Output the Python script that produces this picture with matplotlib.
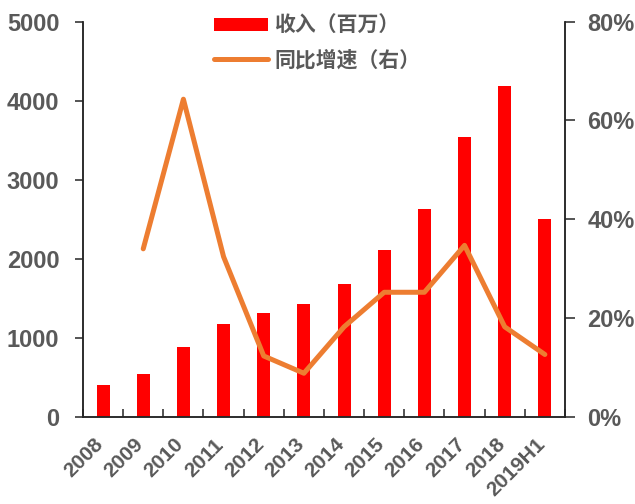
import numpy as np
import matplotlib
matplotlib.use("Agg")
import matplotlib.pyplot as plt
from matplotlib.ticker import FixedLocator, PercentFormatter
from matplotlib.transforms import ScaledTranslation

years = ["2008", "2009", "2010", "2011", "2012", "2013", "2014",
         "2015", "2016", "2017", "2018", "2019H1"]
revenue = [400, 540, 885, 1170, 1310, 1425, 1680, 2105, 2630, 3540, 4190, 2500]
growth = [np.nan, 34.0, 64.3, 32.4, 12.3, 8.8, 18.2, 25.2, 25.2, 34.7, 18.2, 12.6]

rev_label = "收入（百万）"
growth_label = "同比增速（右）"

gray = "#595959"
axis_color = "#262626"
bar_color = "#FF0000"
line_color = "#ED7D31"

plt.rcParams["font.family"] = ["Liberation Sans", "DejaVu Sans"]

fig = plt.figure(figsize=(6.35, 5.04), dpi=100)
ax = fig.add_axes([0.1307, 0.1732, 0.759, 0.7838])
ax2 = ax.twinx()

x = np.arange(len(years))
bars = ax.bar(x, revenue, width=0.325, color=bar_color, zorder=2)
line, = ax2.plot(x, growth, color=line_color, lw=3.6,
                 solid_capstyle="round", solid_joinstyle="round", zorder=3)

ax.set_xlim(-0.5, len(years) - 0.5)
ax.set_ylim(0, 5000)
ax2.set_ylim(0, 80)

ax.set_yticks([0, 1000, 2000, 3000, 4000, 5000])
ax2.set_yticks([0, 20, 40, 60, 80])
ax2.yaxis.set_major_formatter(PercentFormatter(decimals=0))

for a in (ax, ax2):
    a.spines["top"].set_visible(False)
    for s in ("left", "right", "bottom"):
        a.spines[s].set_color(axis_color)
        a.spines[s].set_linewidth(1.1)

# category labels at bar centres, tick marks at category boundaries
ax.set_xticks(x)
ax.set_xticklabels(years, rotation=45, ha="right", va="top",
                   fontsize=15, fontweight="bold", color=gray)
ax.tick_params(axis="x", which="major", length=0, pad=13)
shift = ScaledTranslation(4 / 100, 0, fig.dpi_scale_trans)
for lab in ax.get_xticklabels():
    lab.set_transform(lab.get_transform() + shift)
ax.xaxis.set_minor_locator(FixedLocator(np.arange(-0.5, len(years), 1.0)))
ax.tick_params(axis="x", which="minor", direction="in", length=6,
               width=1.1, color=axis_color)

ax.tick_params(axis="y", direction="out", length=6, width=1.1,
               color=axis_color, pad=11, labelsize=17, labelcolor=gray)
ax2.tick_params(axis="y", direction="out", length=7, width=1.1,
                color=axis_color, pad=9, labelsize=17, labelcolor=gray)
for lab in ax.get_yticklabels() + ax2.get_yticklabels():
    lab.set_fontweight("bold")

leg = fig.legend([bars, line], [rev_label, growth_label],
                 loc="upper left", bbox_to_anchor=(0.307, 1.008),
                 frameon=False, handlelength=2.6, handleheight=0.55,
                 handletextpad=0.3, labelspacing=0.65,
                 prop={"family": ["Noto Sans CJK SC", "DejaVu Sans"],
                       "size": 15, "weight": "bold"})
for t in leg.get_texts():
    t.set_color(gray)

fig.savefig("out.png", dpi=100)
